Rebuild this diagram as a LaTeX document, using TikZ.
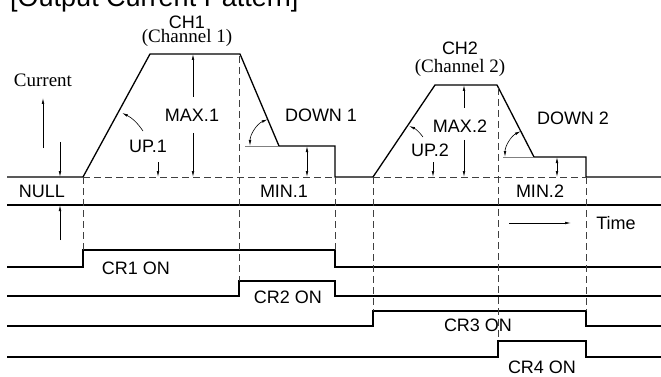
\documentclass[tikz,border=0pt]{standalone}
\usepackage{fontspec}
\setmainfont{Liberation Sans}
\newfontfamily\timesfont{Liberation Serif}
\usetikzlibrary{arrows.meta}

\tikzset{
  wave/.style={line width=1.3pt},
  guide/.style={line width=0.7pt, dash pattern=on 7pt off 4pt, black!75},
  refline/.style={line width=0.7pt, gray},
  dim/.style={line width=0.6pt, -{Latex[length=6pt,width=2.6pt]}},
  dimboth/.style={line width=0.6pt, {Latex[length=6pt,width=2.6pt]}-{Latex[length=6pt,width=2.6pt]}},
  lbl/.style={inner sep=0pt, font=\fontsize{18}{20}\selectfont},
  serlbl/.style={inner sep=0pt, font=\fontsize{19}{21}\selectfont\timesfont},
}

\begin{document}
\begin{tikzpicture}[x=1pt,y=1pt]
  \useasboundingbox (0,0) rectangle (661,-377);

  % Key points of the current pattern
  \coordinate (start1) at (83,-177);
  \coordinate (top1l) at (150,-54);
  \coordinate (top1r) at (240,-54);
  \coordinate (min1l) at (279,-146);
  \coordinate (min1r) at (335,-146);
  \coordinate (end1) at (335,-177);
  \coordinate (start2) at (373,-177);
  \coordinate (top2l) at (435,-85);
  \coordinate (top2r) at (497,-85);
  \coordinate (min2l) at (534,-157);
  \coordinate (min2r) at (586,-157);
  \coordinate (end2) at (586,-177);

  % Title
  \node[lbl, font=\fontsize{27}{30}\selectfont, anchor=base west] (title) at (10,-7) {[Output Current Pattern]};

  % Current pattern
  \draw[wave] (7,-177) -- (start1) -- (top1l) -- (top1r) -- (min1l) -- (min1r)
    -- (end1) -- (start2) -- (top2l) -- (top2r) -- (min2l) -- (min2r) -- (end2) -- (661,-177);
  \draw[wave] (7,-205) -- (661,-205);

  % Relay outputs
  \draw[wave] (7,-267) -- (83,-267) -- (83,-250) -- (335,-250) -- (335,-267) -- (661,-267);
  \draw[wave] (7,-296) -- (239,-296) -- (239,-281) -- (335,-281) -- (335,-296) -- (661,-296);
  \draw[wave] (7,-326) -- (373,-326) -- (373,-311) -- (586,-311) -- (586,-326) -- (661,-326);
  \draw[wave] (7,-357) -- (498,-357) -- (498,-341) -- (586,-341) -- (586,-357) -- (661,-357);

  % Dashed guides
  \draw[guide] (start1) -- (end1);
  \draw[guide] (start2) -- (end2);
  \draw[guide] (start1) -- (83,-250);
  \draw[guide] (239,-56) -- (239,-281);
  \draw[guide] (end1) -- (335,-250);
  \draw[guide] (start2) -- (373,-311);
  \draw[guide] (498,-88) -- (498,-341);
  \draw[guide] (end2) -- (586,-311);

  % Angle references
  \draw[refline] (245,-146) -- (min1l);
  \draw[refline] (503,-157) -- (min2l);
  \draw[dimboth] (250,-146) arc[start angle=180, end angle=113, radius=29];
  \draw[dimboth] (505,-157) arc[start angle=180, end angle=117, radius=29];

  % Dimension arrows
  \draw[dim] (43,-148) -- (43,-98);
  \draw[dim] (60,-142) -- (60,-177);
  \draw[dim] (60,-240) -- (60,-205);
  \draw[dim] (193,-97) -- (193,-54);
  \draw[dim] (193,-133) -- (193,-177);
  \draw[dim] (143,-131) to[bend right=15] (122,-113);
  \draw[dim] (158,-162) -- (158,-177);
  \draw[dimboth] (307,-146) -- (307,-177);
  \draw[dim] (464,-108) -- (464,-85);
  \draw[dim] (464,-140) -- (464,-177);
  \draw[dim] (423,-137) to[bend right=15] (409,-126);
  \draw[dim] (433,-162) -- (433,-177);
  \draw[dimboth] (557,-157) -- (557,-177);
  \draw[dim] (509,-223) -- (571,-223);

  % Labels
  \node[lbl] (ch1) at (187,-22) {CH1};
  \node[serlbl] (ch1sub) at (187,-38) {(Channel 1)};
  \node[serlbl] (current) at (43,-80) {Current};
  \node[lbl] (max1) at (192,-115) {MAX.1};
  \node[lbl] (up1) at (148,-146) {UP.1};
  \node[lbl] (down1) at (321,-115) {DOWN 1};
  \node[lbl] (null) at (42,-191) {NULL};
  \node[lbl] (min1) at (284,-191) {MIN.1};
  \node[lbl] (ch2) at (460,-48) {CH2};
  \node[serlbl] (ch2sub) at (460,-68) {(Channel 2)};
  \node[lbl] (max2) at (460,-126) {MAX.2};
  \node[lbl] (up2) at (430,-150) {UP.2};
  \node[lbl] (down2) at (573,-118) {DOWN 2};
  \node[lbl] (min2) at (540,-191) {MIN.2};
  \node[lbl] (time) at (616,-223) {Time};
  \node[lbl] (cr1) at (136,-268) {CR1 ON};
  \node[lbl] (cr2) at (288,-297) {CR2 ON};
  \node[lbl] (cr3) at (478,-325) {CR3 ON};
  \node[lbl] (cr4) at (542,-367) {CR4 ON};
\end{tikzpicture}
\end{document}
